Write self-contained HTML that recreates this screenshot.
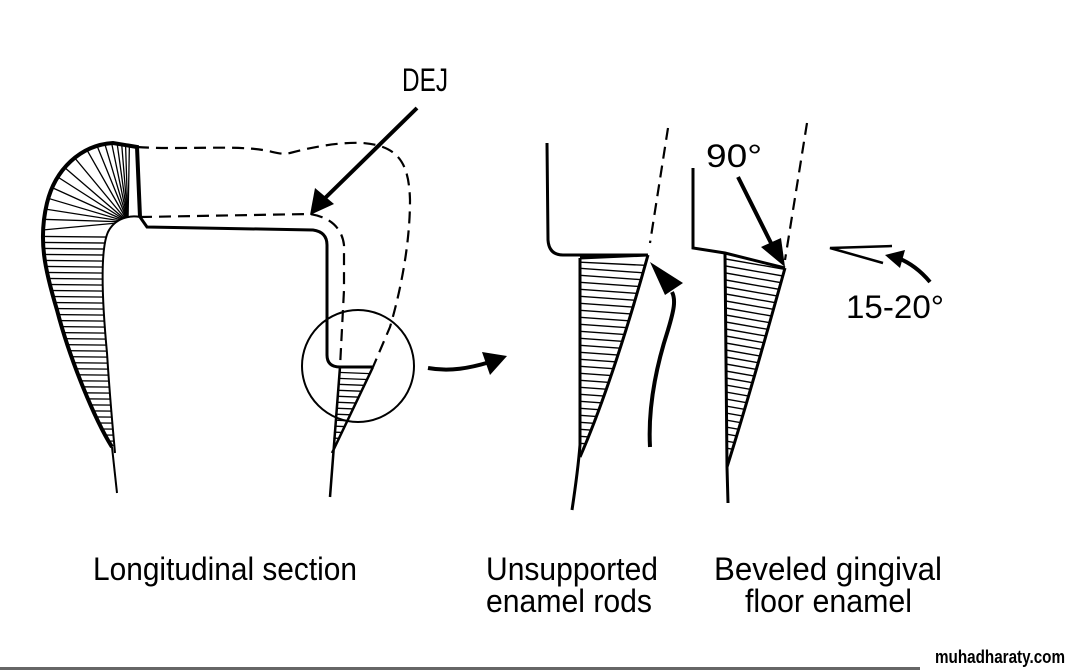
<!DOCTYPE html>
<html><head><meta charset="utf-8"><style>
html,body{margin:0;padding:0;background:#fff;}
svg{display:block;}
text{font-family:"Liberation Sans",sans-serif;fill:#000;}
</style></head><body>
<svg width="1072" height="670" viewBox="0 0 1072 670" xmlns="http://www.w3.org/2000/svg">
<defs>
<clipPath id="enL"><path d="M112,447 C95,420 70,360 57,310 C45,270 38,240 47,203 C55,170 80,145 113,143 L137,147 L140,217 C130,215 115,218 108,232 C100,250 102,300 107,353 C110,400 113,430 115,453 Z"/></clipPath>
<clipPath id="enLtop"><rect x="0" y="0" width="200" height="232"/></clipPath>
<clipPath id="enLbot"><rect x="0" y="232" width="200" height="300"/></clipPath>
<clipPath id="tri1"><path d="M340,367 L373,367 L332,453 Z"/></clipPath>
<clipPath id="tri2"><path d="M580,258 L648,255 C630,320 605,400 580,457 Z"/></clipPath>
<clipPath id="tri3"><path d="M725,253 L785,268 C765,340 745,410 727,467 Z"/></clipPath>
</defs>

<g clip-path="url(#enL)" stroke="#000" stroke-width="1.3">
  <g clip-path="url(#enLbot)">
    <line x1="0" y1="236" x2="200" y2="238"/><line x1="0" y1="242" x2="200" y2="244"/>
    <line x1="0" y1="248" x2="200" y2="250"/><line x1="0" y1="254" x2="200" y2="256"/>
    <line x1="0" y1="260" x2="200" y2="262"/><line x1="0" y1="266" x2="200" y2="268"/>
    <line x1="0" y1="272" x2="200" y2="274"/><line x1="0" y1="278" x2="200" y2="280"/>
    <line x1="0" y1="284" x2="200" y2="286"/><line x1="0" y1="290" x2="200" y2="292"/>
    <line x1="0" y1="296" x2="200" y2="298"/><line x1="0" y1="302" x2="200" y2="304"/>
    <line x1="0" y1="308" x2="200" y2="310"/><line x1="0" y1="314" x2="200" y2="316"/>
    <line x1="0" y1="320" x2="200" y2="322"/><line x1="0" y1="326" x2="200" y2="328"/>
    <line x1="0" y1="332" x2="200" y2="334"/><line x1="0" y1="338" x2="200" y2="340"/>
    <line x1="0" y1="344" x2="200" y2="346"/><line x1="0" y1="350" x2="200" y2="352"/>
    <line x1="0" y1="356" x2="200" y2="358"/><line x1="0" y1="362" x2="200" y2="364"/>
    <line x1="0" y1="368" x2="200" y2="370"/><line x1="0" y1="374" x2="200" y2="376"/>
    <line x1="0" y1="380" x2="200" y2="382"/><line x1="0" y1="386" x2="200" y2="388"/>
    <line x1="0" y1="392" x2="200" y2="394"/><line x1="0" y1="398" x2="200" y2="400"/>
    <line x1="0" y1="404" x2="200" y2="406"/><line x1="0" y1="410" x2="200" y2="412"/>
    <line x1="0" y1="416" x2="200" y2="418"/><line x1="0" y1="422" x2="200" y2="424"/>
    <line x1="0" y1="428" x2="200" y2="430"/><line x1="0" y1="434" x2="200" y2="436"/>
    <line x1="0" y1="440" x2="200" y2="442"/>
  </g>
  <g clip-path="url(#enLtop)">
    <line x1="128" y1="222" x2="0" y2="234"/><line x1="128" y1="222" x2="0" y2="218"/>
    <line x1="128" y1="222" x2="0" y2="202"/><line x1="128" y1="222" x2="0" y2="184"/>
    <line x1="128" y1="222" x2="0" y2="164"/><line x1="128" y1="222" x2="0" y2="140"/>
    <line x1="128" y1="222" x2="0" y2="112"/><line x1="128" y1="222" x2="10" y2="80"/>
    <line x1="128" y1="222" x2="30" y2="50"/><line x1="128" y1="222" x2="50" y2="30"/>
    <line x1="128" y1="222" x2="68" y2="20"/><line x1="128" y1="222" x2="84" y2="10"/>
    <line x1="128" y1="222" x2="98" y2="5"/><line x1="128" y1="222" x2="110" y2="0"/>
    <line x1="128" y1="222" x2="121" y2="0"/><line x1="128" y1="222" x2="132" y2="0"/>
  </g>
</g>
<path d="M112,447 C95,420 70,360 57,310 C45,270 38,240 47,203 C55,170 80,145 113,143 L137,147 L140,217" fill="none" stroke="#000" stroke-width="4"/>
<path d="M112,447 L117,493" fill="none" stroke="#000" stroke-width="2"/>
<path d="M140,217 C130,215 115,218 108,232 C100,250 102,300 107,353 C110,400 113,430 115,453" fill="none" stroke="#000" stroke-width="2"/>
<path d="M140,217 L147,227 L313,230 Q327,232 327,245 L327,355 Q327,367 340,367 L373,367" fill="none" stroke="#000" stroke-width="3"/>
<g clip-path="url(#tri1)" stroke="#000" stroke-width="1.3">
  <line x1="330" y1="372" x2="380" y2="374"/><line x1="330" y1="378" x2="380" y2="380"/>
  <line x1="330" y1="384" x2="380" y2="386"/><line x1="330" y1="390" x2="380" y2="392"/>
  <line x1="330" y1="396" x2="380" y2="398"/><line x1="330" y1="402" x2="380" y2="404"/>
  <line x1="330" y1="408" x2="380" y2="410"/><line x1="330" y1="414" x2="380" y2="416"/>
  <line x1="330" y1="420" x2="380" y2="422"/><line x1="330" y1="426" x2="380" y2="428"/>
  <line x1="330" y1="432" x2="380" y2="434"/><line x1="330" y1="438" x2="380" y2="440"/>
</g>
<path d="M340,367 L330,497 M373,367 L332,453" fill="none" stroke="#000" stroke-width="2.5"/>
<path d="M137,147 C180,150 230,145 263,150 C275,152 280,155 290,153 C320,145 345,142 363,143 C400,146 409,165 410,200 C410,250 398,300 390,327 L373,367" fill="none" stroke="#000" stroke-width="2.2" stroke-dasharray="12,7"/>
<path d="M140,217 L310,214 C330,217 342,228 344,245 L344,290 L340,367" fill="none" stroke="#000" stroke-width="2.2" stroke-dasharray="12,7"/>
<circle cx="358" cy="366" r="56" fill="none" stroke="#000" stroke-width="2"/>
<line x1="417" y1="108" x2="320" y2="203" stroke="#000" stroke-width="4"/>
<path d="M310,215 L315,188 L334,204 Z" fill="#000"/>
<text x="402" y="91" font-size="32" textLength="46" lengthAdjust="spacingAndGlyphs">DEJ</text>
<path d="M428,368 C450,372 470,368 490,362" fill="none" stroke="#000" stroke-width="4"/>
<path d="M507,356 L482,352 L490,375 Z" fill="#000"/>

<path d="M547,143 L548,240 Q549,255 563,255 L647,255" fill="none" stroke="#000" stroke-width="3"/>
<path d="M668,128 L650,243" fill="none" stroke="#000" stroke-width="2.2" stroke-dasharray="12,7"/>
<g clip-path="url(#tri2)" stroke="#000" stroke-width="1.4">
  <line x1="575" y1="262" x2="660" y2="266"/><line x1="575" y1="268" x2="660" y2="274"/>
  <line x1="575" y1="275" x2="660" y2="281"/><line x1="575" y1="282" x2="660" y2="288"/>
  <line x1="575" y1="289" x2="660" y2="295"/><line x1="575" y1="296" x2="660" y2="302"/>
  <line x1="575" y1="303" x2="660" y2="309"/><line x1="575" y1="310" x2="660" y2="316"/>
  <line x1="575" y1="317" x2="660" y2="323"/><line x1="575" y1="324" x2="660" y2="330"/>
  <line x1="575" y1="331" x2="660" y2="337"/><line x1="575" y1="338" x2="660" y2="344"/>
  <line x1="575" y1="345" x2="660" y2="351"/><line x1="575" y1="352" x2="660" y2="358"/>
  <line x1="575" y1="359" x2="660" y2="365"/><line x1="575" y1="366" x2="660" y2="372"/>
  <line x1="575" y1="373" x2="660" y2="379"/><line x1="575" y1="380" x2="660" y2="386"/>
  <line x1="575" y1="387" x2="660" y2="393"/><line x1="575" y1="394" x2="660" y2="400"/>
  <line x1="575" y1="401" x2="660" y2="407"/><line x1="575" y1="408" x2="660" y2="414"/>
  <line x1="575" y1="415" x2="660" y2="421"/><line x1="575" y1="422" x2="660" y2="428"/>
  <line x1="575" y1="429" x2="660" y2="435"/><line x1="575" y1="436" x2="660" y2="442"/>
  <line x1="575" y1="443" x2="660" y2="449"/>
</g>
<path d="M580,258 L648,255" fill="none" stroke="#000" stroke-width="3"/>
<path d="M580,258 L580,445 C578,470 575,490 572,510" fill="none" stroke="#000" stroke-width="3"/>
<path d="M648,255 C630,320 605,400 580,457" fill="none" stroke="#000" stroke-width="3"/>
<path d="M650,447 C648,410 655,370 668,330 C674,310 676,300 672,292" fill="none" stroke="#000" stroke-width="4"/>
<path d="M650,262 L683,283 L665,295 Z" fill="#000"/>

<path d="M693,168 L693,248 L725,253 L785,268" fill="none" stroke="#000" stroke-width="3"/>
<path d="M807,123 L785,260" fill="none" stroke="#000" stroke-width="2.2" stroke-dasharray="12,7"/>
<g clip-path="url(#tri3)" stroke="#000" stroke-width="1.4">
  <line x1="720" y1="258" x2="800" y2="272"/><line x1="720" y1="265" x2="800" y2="279"/>
  <line x1="720" y1="272" x2="800" y2="286"/><line x1="720" y1="279" x2="800" y2="293"/>
  <line x1="720" y1="286" x2="800" y2="300"/><line x1="720" y1="293" x2="800" y2="307"/>
  <line x1="720" y1="300" x2="800" y2="314"/><line x1="720" y1="307" x2="800" y2="321"/>
  <line x1="720" y1="314" x2="800" y2="328"/><line x1="720" y1="321" x2="800" y2="335"/>
  <line x1="720" y1="328" x2="800" y2="342"/><line x1="720" y1="335" x2="800" y2="349"/>
  <line x1="720" y1="342" x2="800" y2="356"/><line x1="720" y1="349" x2="800" y2="363"/>
  <line x1="720" y1="356" x2="800" y2="370"/><line x1="720" y1="363" x2="800" y2="377"/>
  <line x1="720" y1="370" x2="800" y2="384"/><line x1="720" y1="377" x2="800" y2="391"/>
  <line x1="720" y1="384" x2="800" y2="398"/><line x1="720" y1="391" x2="800" y2="405"/>
  <line x1="720" y1="398" x2="800" y2="412"/><line x1="720" y1="405" x2="800" y2="419"/>
  <line x1="720" y1="412" x2="800" y2="426"/><line x1="720" y1="419" x2="800" y2="433"/>
  <line x1="720" y1="426" x2="800" y2="440"/><line x1="720" y1="433" x2="800" y2="447"/>
  <line x1="720" y1="440" x2="800" y2="454"/><line x1="720" y1="447" x2="800" y2="461"/>
</g>
<path d="M725,253 L727,467 L728,503" fill="none" stroke="#000" stroke-width="3"/>
<path d="M785,268 C765,340 745,410 727,467" fill="none" stroke="#000" stroke-width="3"/>
<line x1="738" y1="177" x2="772" y2="245" stroke="#000" stroke-width="4"/>
<path d="M785,267 L761,247 L781,238 Z" fill="#000"/>
<text x="706" y="167" font-size="32" textLength="56" lengthAdjust="spacingAndGlyphs">90°</text>
<path d="M892,246 L830,248 L883,263" fill="none" stroke="#000" stroke-width="2.5"/>
<path d="M930,282 C920,270 908,262 898,258" fill="none" stroke="#000" stroke-width="4"/>
<path d="M885,255 L905,250 L900,268 Z" fill="#000"/>
<text x="846" y="318" font-size="32" textLength="98" lengthAdjust="spacingAndGlyphs">15-20°</text>

<text x="93" y="580" font-size="32" textLength="264" lengthAdjust="spacingAndGlyphs">Longitudinal section</text>
<text x="486" y="580" font-size="32" textLength="172" lengthAdjust="spacingAndGlyphs">Unsupported</text>
<text x="486" y="612" font-size="32" textLength="166" lengthAdjust="spacingAndGlyphs">enamel rods</text>
<text x="714" y="580" font-size="32" textLength="228" lengthAdjust="spacingAndGlyphs">Beveled gingival</text>
<text x="745" y="612" font-size="32" textLength="167" lengthAdjust="spacingAndGlyphs">floor enamel</text>
<text x="935" y="663" font-size="18" font-weight="bold" textLength="130" lengthAdjust="spacingAndGlyphs">muhadharaty.com</text>
<rect x="0" y="667" width="920" height="3" fill="#000" opacity="0.6"/>
</svg>
</body></html>
